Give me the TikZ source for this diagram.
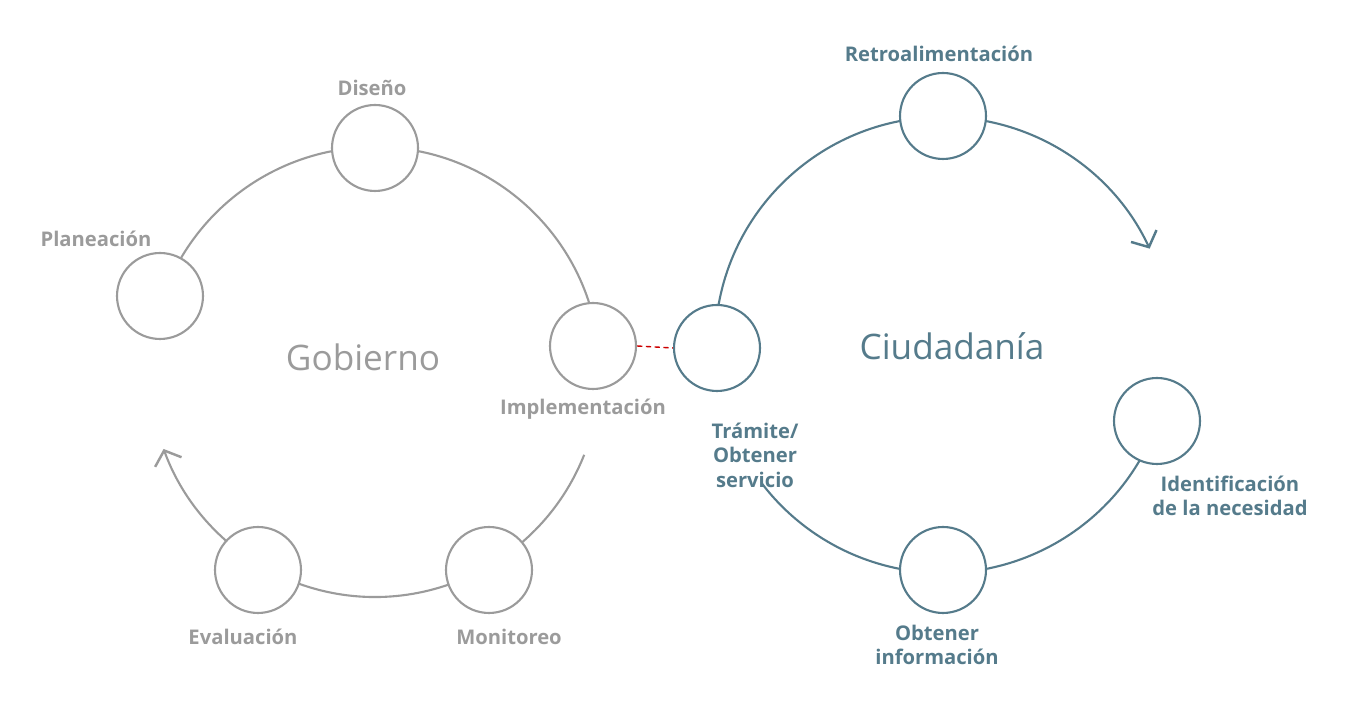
\documentclass[tikz,border=0pt]{standalone}
\usepackage{fontspec}
\setmainfont{Open Sans}
\usetikzlibrary{arrows.meta}
\definecolor{gov}{HTML}{9B9B9B}
\definecolor{cit}{HTML}{557B8B}
\begin{document}
\begin{tikzpicture}[x=0.02cm,y=0.02cm,
  stage/.style={circle,draw,fill=white,line width=1.2pt,minimum size=1.72cm,inner sep=0pt},
  lbl/.style={font=\bfseries\fontsize{11.5}{14}\selectfont,align=center},
  big/.style={font=\fontsize{20}{24}\selectfont},
  barb/.style={-{Straight Barb[length=7pt,width=16pt,line width=1.4pt]}}]
\useasboundingbox (0,0) rectangle (1359,716);
% Gobierno
\coordinate (gc) at (375,344);
\draw[gov,line width=1.2pt] (gc)++(7:225) arc[start angle=7,end angle=160.5,radius=225];
\draw[gov,line width=1.2pt,barb] (gc)++(-21.6:225) arc[start angle=-21.6,end angle=-160,radius=225];
\node[stage,draw=gov] (dis) at (375,568) {};
\node[stage,draw=gov] (pla) at (160,420) {};
\node[stage,draw=gov] (imp) at (593,370) {};
\node[stage,draw=gov] (mon) at (489,146) {};
\node[stage,draw=gov] (eva) at (258,146) {};
\node[lbl,gov] (ldis) at (372,628) {Diseño};
\node[lbl,gov] (lpla) at (96,477) {Planeación};
\node[lbl,gov] (limp) at (583,307) {Implementación};
\node[lbl,gov] (lmon) at (509,79) {Monitoreo};
\node[lbl,gov] (leva) at (243,79) {Evaluación};
\node[big,gov] (gob) at (363,359) {Gobierno};
% Ciudadania
\coordinate (cc) at (943,371);
\draw[cit,line width=1.2pt,barb] (cc)++(174:228) arc[start angle=174,end angle=25,radius=228];
\draw[cit,line width=1.2pt] (cc)++(-19.5:228) arc[start angle=-19.5,end angle=-142.6,radius=228];
\draw[cit,line width=1.2pt] (cc)++(174:228) arc[start angle=174,end angle=189,radius=228];
\node[stage,draw=cit] (ret) at (943,600) {};
\node[stage,draw=cit] (tra) at (717,368) {};
\node[stage,draw=cit] (ide) at (1157,295) {};
\node[stage,draw=cit] (obt) at (943,146) {};
\node[lbl,cit] (lret) at (939,662) {Retroalimentación};
\node[lbl,cit] (ltra) at (755,261) {Trámite/\\Obtener\\servicio};
\node[lbl,cit] (lide) at (1230,220) {Identificación\\de la necesidad};
\node[lbl,cit] (lobt) at (937,71) {Obtener\\información};
\node[big,cit] (ciu) at (952,370) {Ciudadanía};
\draw[red!80!black,densely dashed,line width=0.8pt] (imp.east) -- (tra.west);
\end{tikzpicture}
\end{document}
